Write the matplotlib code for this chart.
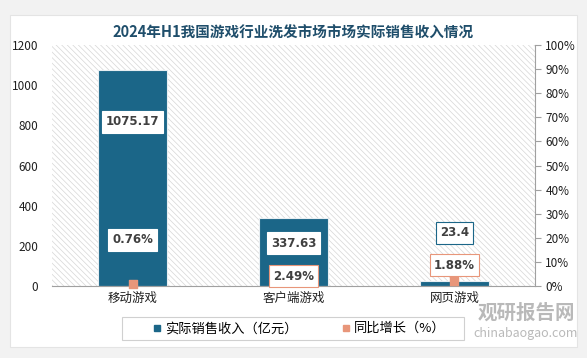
import matplotlib.pyplot as plt
from matplotlib.patches import Rectangle
from matplotlib.ticker import FuncFormatter

plt.rcParams['font.family'] = ['Noto Sans CJK SC', 'DejaVu Sans']
plt.rcParams['hatch.linewidth'] = 0.5

categories = ['移动游戏', '客户端游戏', '网页游戏']
revenue = [1075.17, 337.63, 23.4]
growth = [0.76, 2.49, 1.88]
revenue_labels = ['1075.17', '337.63', '23.4']
growth_labels = ['0.76%', '2.49%', '1.88%']

bar_color = '#1B6688'
dot_color = '#E8967A'
text_color = '#404040'

fig = plt.figure(figsize=(5.87, 3.58), dpi=100)
fig.patch.set_facecolor('#F2F2F2')
# white panel
fig.add_artist(Rectangle((0.017, 0.032), 0.966, 0.926, transform=fig.transFigure,
                         facecolor='white', edgecolor='#E4E4E4', lw=0.8, zorder=0))

ax = fig.add_axes([0.0886, 0.2011, 0.8228, 0.6732])
ax.set_facecolor('white')
ax.add_patch(Rectangle((0, 0), 1, 1, transform=ax.transAxes, facecolor='white',
                       edgecolor='#D6D6D6', hatch='\\' * 6, lw=0, zorder=0))

x = range(len(categories))
ax.bar(x, revenue, width=0.43, color=bar_color, edgecolor='#E8EEF2', lw=0.8, zorder=2)
ax.set_ylim(0, 1200)
ax.set_xlim(-0.5, 2.5)
ax.set_yticks(range(0, 1201, 200))
ax.set_xticks(list(x))
ax.set_xticklabels(categories, fontsize=9, color='#202020')
ax.tick_params(axis='y', length=0, labelsize=8.5, labelcolor='#202020', pad=10)
ax.tick_params(axis='x', length=0, pad=4)
for s in ['top', 'left', 'right']:
    ax.spines[s].set_visible(False)
ax.spines['bottom'].set_color('#A0A0A0')

ax2 = ax.twinx()
ax2.set_ylim(0, 100)
ax2.set_yticks(range(0, 101, 10))
ax2.yaxis.set_major_formatter(FuncFormatter(lambda v, p: f'{int(v)}%'))
ax2.tick_params(axis='y', length=4, color='#A0A0A0', labelsize=8.5, labelcolor='#202020')
for s in ['top', 'left', 'bottom']:
    ax2.spines[s].set_visible(False)
ax2.spines['right'].set_color('#A0A0A0')
ax2.scatter(list(x), growth, marker='s', s=28, color=dot_color, zorder=5, clip_on=False)

rev_y = [817, 214, 264]
gr_y = [19.1, 4.1, 8.7]
for i in x:
    ax.text(i, rev_y[i], revenue_labels[i], ha='center', va='center', fontsize=8.5,
            fontweight='bold', color=text_color, family='DejaVu Sans',
            bbox=dict(boxstyle='square,pad=0.35', fc='white',
                      ec=bar_color if i == 2 else 'white', lw=0.8), zorder=6)
    ax2.text(i, gr_y[i], growth_labels[i], ha='center', va='center', fontsize=8.5,
             fontweight='bold', color=text_color, family='DejaVu Sans',
             bbox=dict(boxstyle='square,pad=0.35', fc='white',
                       ec=dot_color if i > 0 else 'white', lw=0.8), zorder=6)

fig.text(0.5, 0.908, '2024年H1我国游戏行业洗发市场市场实际销售收入情况', ha='center',
         va='center', fontsize=10.5, fontweight='bold', color='#1F4E6B')

# legend box
fig.add_artist(Rectangle((122 / 587, 0.050), 342 / 587, 0.064, transform=fig.transFigure,
                         facecolor='white', edgecolor='#D0D0D0', lw=0.8, zorder=1))
h1 = plt.Line2D([], [], marker='s', ls='', color=bar_color, markersize=5)
h2 = plt.Line2D([], [], marker='s', ls='', color=dot_color, markersize=5)
leg = fig.legend([h1, h2], ['实际销售收入（亿元）', '同比增长（%）'], loc='center',
                 bbox_to_anchor=(0.508, 0.082), ncol=2, frameon=False, fontsize=9.5,
                 handletextpad=0.1, handlelength=1.0, columnspacing=3.2, borderpad=0.2)

fig.text(0.896, 0.126, '观研报告网', ha='center', va='center', fontsize=14,
         fontweight='bold', color='#A8A8A8', alpha=0.8)
fig.text(0.896, 0.068, 'chinabaogao.com', ha='center', va='center', fontsize=9,
         color='#A8A8A8', alpha=0.8)

fig.savefig('out.png', dpi=100, facecolor=fig.get_facecolor())
